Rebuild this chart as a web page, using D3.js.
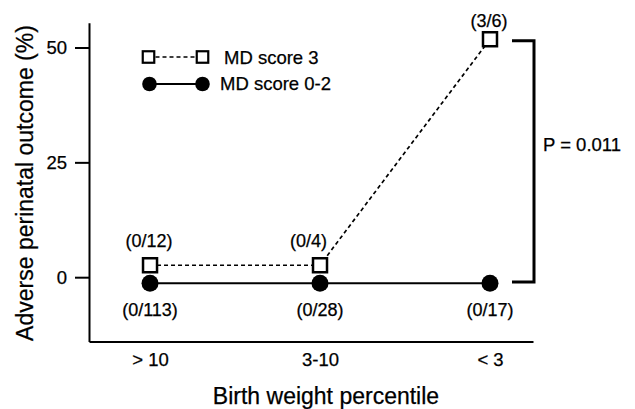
<!DOCTYPE html>
<html><head><meta charset="utf-8">
<script src="https://cdn.jsdelivr.net/npm/d3@7"></script>
<style>
html,body{margin:0;padding:0;background:#fff;}
svg{display:block;font-family:"Liberation Sans",Arial,Helvetica,sans-serif;}
svg text{stroke:#000;stroke-width:0.25px;fill:#000;}
</style></head>
<body>
<svg id="chart" width="635" height="409"></svg>
<script>
const categories = ["> 10", "3-10", "< 3"];
const mdScore3 = [2.6, 2.6, 51.8];
const mdScore02 = [-1.3, -1.3, -1.3];
const labels3 = ["(0/12)", "(0/4)", "(3/6)"];
const labels02 = ["(0/113)", "(0/28)", "(0/17)"];
const yTicks = [0, 25, 50];
const seriesNames = ["MD score 3", "MD score 0-2"];
const pText = "P = 0.011";
const xTitle = "Birth weight percentile";
const yTitle = "Adverse perinatal outcome (%)";

const svg = d3.select("#chart");
const x = d3.scaleLinear().domain([-0.359, 2.253]).range([89, 533]);
const y = d3.scaleLinear().domain([-14, 55.4]).range([341.5, 22.7]);
const idx = categories.map((c, i) => i);
const FF = "Liberation Sans, Arial, sans-serif";

// Y axis
const yAxis = svg.append("g").attr("transform", "translate(89,0)")
  .call(d3.axisLeft(y).tickValues(yTicks).tickSize(14).tickSizeOuter(0).tickPadding(8));
yAxis.select(".domain").attr("stroke-width", 2);
yAxis.selectAll(".tick line").attr("stroke-width", 2);
yAxis.selectAll(".tick text").attr("font-size", 18.5).attr("font-family", FF);

// X axis
const xAxis = svg.append("g").attr("transform", "translate(0,341.5)")
  .call(d3.axisBottom(x).tickValues(idx).tickFormat(i => categories[i]).tickSize(0).tickSizeOuter(0).tickPadding(11));
xAxis.select(".domain").attr("stroke-width", 2);
xAxis.selectAll(".tick text").attr("font-size", 18.5).attr("font-family", FF);

// Titles
svg.append("text").attr("x", 326).attr("y", 403.5).attr("text-anchor", "middle")
  .attr("font-size", 23).text(xTitle);
svg.append("text").attr("transform", "translate(33,183) rotate(-90)").attr("text-anchor", "middle")
  .attr("font-size", 23).text(yTitle);

// Lines
const line = d3.line().x((d, i) => x(i)).y(d => y(d));
svg.append("path").datum(mdScore02).attr("d", line).attr("fill", "none")
  .attr("stroke", "#000").attr("stroke-width", 2);
svg.append("path").datum(mdScore3).attr("d", line).attr("fill", "none")
  .attr("stroke", "#000").attr("stroke-width", 1.7).attr("stroke-dasharray", "4,3");

// Markers
svg.selectAll("circle.d").data(mdScore02).enter().append("circle")
  .attr("cx", (d, i) => x(i)).attr("cy", d => y(d)).attr("r", 8.5).attr("fill", "#000");
svg.selectAll("rect.d").data(mdScore3).enter().append("rect")
  .attr("x", (d, i) => x(i) - 7).attr("y", d => y(d) - 7).attr("width", 14).attr("height", 14)
  .attr("fill", "#fff").attr("stroke", "#000").attr("stroke-width", 2.5);

// Labels
const rises = i => i < mdScore3.length - 1 && mdScore3[i + 1] > mdScore3[i];
svg.selectAll("text.l3").data(labels3).enter().append("text")
  .attr("x", (d, i) => rises(i) ? x(i) + 7 : x(i) - 1)
  .attr("y", (d, i) => Math.max(y(mdScore3[i]) - 18, 27))
  .attr("text-anchor", (d, i) => rises(i) ? "end" : "middle")
  .attr("font-size", 18).text(d => d);
svg.selectAll("text.l02").data(labels02).enter().append("text")
  .attr("x", (d, i) => x(i)).attr("y", (d, i) => y(mdScore02[i]) + 33)
  .attr("text-anchor", "middle").attr("font-size", 18).text(d => d);

// Bracket
const last = categories.length - 1;
const bt = y(mdScore3[last]) + 1.5, bb = y(mdScore02[last]) - 1.2;
svg.append("path").attr("d", `M512,${bt} H534 V${bb} H512`).attr("fill", "none")
  .attr("stroke", "#000").attr("stroke-width", 3);
svg.append("text").attr("x", 543).attr("y", 151).attr("font-size", 18.5).text(pText);

// Legend
const lg = svg.append("g");
lg.append("line").attr("x1", 148.5).attr("x2", 202.5).attr("y1", 57).attr("y2", 57)
  .attr("stroke", "#000").attr("stroke-width", 1.7).attr("stroke-dasharray", "4,3");
[148.5, 202.5].forEach(cx => lg.append("rect").attr("x", cx - 5.75).attr("y", 57 - 5.75)
  .attr("width", 11.5).attr("height", 11.5).attr("fill", "#fff").attr("stroke", "#000").attr("stroke-width", 2.2));
lg.append("line").attr("x1", 149.5).attr("x2", 202.5).attr("y1", 84).attr("y2", 84)
  .attr("stroke", "#000").attr("stroke-width", 2);
[149.5, 202.5].forEach(cx => lg.append("circle").attr("cx", cx).attr("cy", 84).attr("r", 7.3).attr("fill", "#000"));
lg.append("text").attr("x", 224).attr("y", 64).attr("font-size", 18.5).text(seriesNames[0]);
lg.append("text").attr("x", 220).attr("y", 90).attr("font-size", 18.5).text(seriesNames[1]);
</script>
</body></html>
